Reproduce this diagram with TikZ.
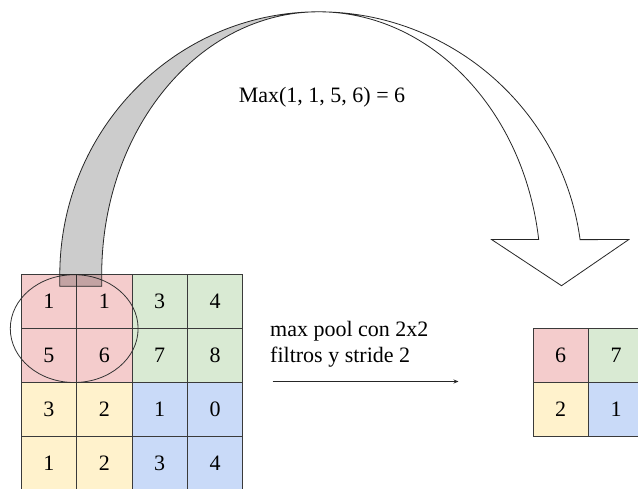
\documentclass[tikz,border=0pt]{standalone}
\usepackage{fontspec}
\setmainfont{Liberation Serif}
\usetikzlibrary{arrows.meta,shapes.geometric}

\definecolor{pinkcell}{HTML}{F4CCCC}
\definecolor{greencell}{HTML}{D9EAD3}
\definecolor{yellowcell}{HTML}{FFF2CC}
\definecolor{bluecell}{HTML}{C9DAF8}
\definecolor{gridline}{HTML}{3A3A3A}

\tikzset{
  cell/.style={draw=gridline, line width=0.8pt, fill=#1, minimum width=55.35pt,
    minimum height=54pt, inner sep=0pt, font=\fontsize{22}{26}\selectfont},
  lbl/.style={inner sep=0pt, anchor=base west, font=\fontsize{22}{26}\selectfont},
  window/.style={ellipse, draw=black!80, line width=0.8pt, minimum width=127.8pt,
    minimum height=107.8pt, inner sep=0pt},
  bandgray/.style={fill=black, fill opacity=0.2, draw=black!85, line width=0.8pt},
  bandwhite/.style={fill=white, draw=black!85, line width=0.8pt},
  flow/.style={draw=black!85, line width=0.8pt, -{Stealth[length=5pt,width=4pt]}}
}

\begin{document}
\begin{tikzpicture}[x=1pt,y=-1pt]
  \useasboundingbox (0,0) rectangle (638,489);
  \clip (0,0) rectangle (638,489);
  \fill[white] (0,0) rectangle (638,489);

  % 4x4 input feature map
  \node[cell=pinkcell]   (a11) at (48.98,301.7) {1};
  \node[cell=pinkcell]   (a12) at (104.33,301.7) {1};
  \node[cell=greencell]  (a13) at (159.68,301.7) {3};
  \node[cell=greencell]  (a14) at (215.03,301.7) {4};
  \node[cell=pinkcell]   (a21) at (48.98,355.7) {5};
  \node[cell=pinkcell]   (a22) at (104.33,355.7) {6};
  \node[cell=greencell]  (a23) at (159.68,355.7) {7};
  \node[cell=greencell]  (a24) at (215.03,355.7) {8};
  \node[cell=yellowcell] (a31) at (48.98,409.7) {3};
  \node[cell=yellowcell] (a32) at (104.33,409.7) {2};
  \node[cell=bluecell]   (a33) at (159.68,409.7) {1};
  \node[cell=bluecell]   (a34) at (215.03,409.7) {0};
  \node[cell=yellowcell] (a41) at (48.98,463.7) {1};
  \node[cell=yellowcell] (a42) at (104.33,463.7) {2};
  \node[cell=bluecell]   (a43) at (159.68,463.7) {3};
  \node[cell=bluecell]   (a44) at (215.03,463.7) {4};

  % 2x2 pooled output
  \node[cell=pinkcell]   (b11) at (560.7,355.0) {6};
  \node[cell=greencell]  (b12) at (616.05,355.0) {7};
  \node[cell=yellowcell] (b21) at (560.7,409.0) {2};
  \node[cell=bluecell]   (b22) at (616.05,409.0) {1};

  % pooling window around the top-left 2x2 block
  \node[window] (win) at (74.2,328.6) {};

  % curved arrow: shaded rising half
  \coordinate (apex) at (318.5,11.8);
  \path[bandgray] (59.8,286.3) -- (59.8,275)
    arc[start angle=180, end angle=90, x radius=258.7pt, y radius=263.2pt]
    arc[start angle=90, end angle=180, x radius=216.8pt, y radius=263.2pt]
    -- (101.7,286.3) -- cycle;

  % curved arrow: falling half with its head
  \path[bandwhite] (apex)
    arc[start angle=90, end angle=7.73, x radius=264pt, y radius=263.2pt]
    -- (628.7,239.6) -- (561.5,285.7) -- (491.7,239.6) -- (538.7,239.6)
    arc[start angle=7.73, end angle=90, x radius=222.2pt, y radius=263.2pt]
    -- cycle;

  % labels
  \node[lbl] (maxlbl) at (238.6,102.6) {Max(1, 1, 5, 6) = 6};
  \node[lbl] (pool1) at (270.0,336.4) {max pool con 2x2};
  \node[lbl] (pool2) at (270.0,362.5) {filtros y stride 2};

  % operation arrow
  \coordinate (opstart) at (272.7,381.5);
  \coordinate (opend) at (458.5,381.5);
  \draw[flow] (opstart) -- (opend);
\end{tikzpicture}
\end{document}
